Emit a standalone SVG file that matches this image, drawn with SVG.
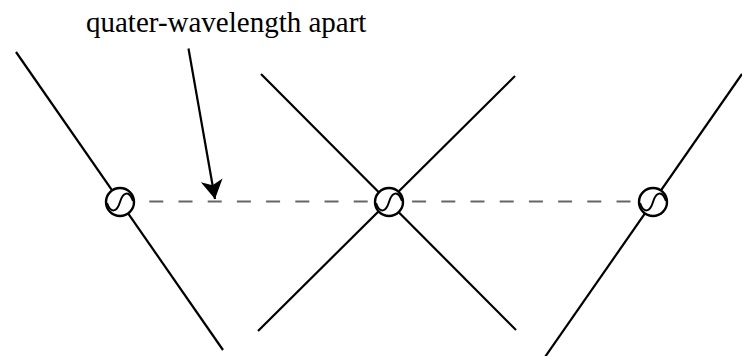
<svg xmlns="http://www.w3.org/2000/svg" width="742" height="356" viewBox="0 0 742 356">
  <style>
    .wire { stroke: #000; stroke-width: 2.2; fill: none; }
    .dash { stroke: #666; stroke-width: 2; stroke-dasharray: 14 15.2; fill: none; }
    .label { font-family: "Liberation Serif", "Times New Roman", serif; font-size: 29px; fill: #000; }
  </style>
  <defs>
    <marker id="arrow" markerUnits="userSpaceOnUse" markerWidth="26" markerHeight="26" viewBox="-22 -13 24 26" refX="0" refY="0" orient="auto">
      <path d="M0,0 L-19,-11 L-14,0 L-19,11 Z" fill="#000"/>
    </marker>
    <g id="acsym">
      <circle cx="0" cy="0" r="14" fill="#fff" stroke="#000" stroke-width="2.4"/>
      <path d="M-13,1 C-9,12 -3,10 0,0 C3,-10 9,-12 13,-1" fill="none" stroke="#000" stroke-width="2"/>
    </g>
  </defs>
  <rect width="742" height="356" fill="#fff"/>
  <g id="connectors">
    <line class="wire" x1="16" y1="52" x2="223" y2="350"/>
    <line class="wire" x1="261" y1="74" x2="516" y2="330"/>
    <line class="wire" x1="515" y1="76" x2="258" y2="331"/>
    <line class="wire" x1="742" y1="74" x2="545" y2="357"/>
    <line class="dash" x1="149.3" y1="201.5" x2="640" y2="201.5"/>
    <line class="wire" x1="188.5" y1="48.5" x2="215" y2="199" marker-end="url(#arrow)"/>
  </g>
  <g id="label">
    <text class="label" x="86" y="32">quater-wavelength apart</text>
  </g>
  <g id="source-left">
    <use href="#acsym" x="120" y="202"/>
  </g>
  <g id="source-center">
    <use href="#acsym" x="389" y="202"/>
  </g>
  <g id="source-right">
    <use href="#acsym" x="653" y="202"/>
  </g>
</svg>
